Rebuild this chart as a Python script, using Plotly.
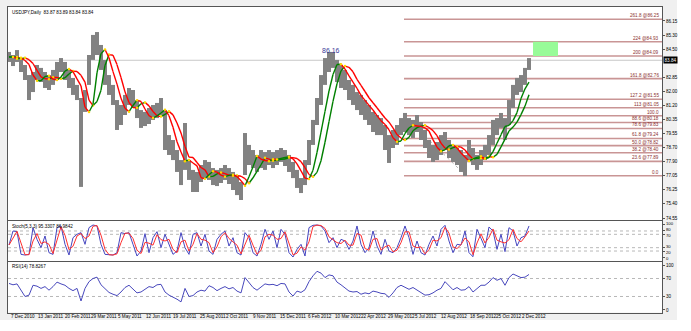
import pandas as pd
import plotly.graph_objects as go

W, H = 691, 331

# ---------------- data (sampled every 4 daily bars) ----------------
high = [84.33, 84.15, 84.44, 83.97, 83.56, 82.97, 83.15, 83.56, 83.39, 83.15,
        82.97, 83.27, 83.74, 83.97, 83.74, 83.27, 82.80, 82.39, 81.62, 82.09,
        84.15, 85.33, 85.50, 84.74, 83.86, 82.97, 82.39, 81.50, 81.21, 81.80,
        82.21, 82.09, 81.50, 80.91, 80.80, 81.03, 81.21, 81.33, 81.62, 80.91,
        79.44, 79.15, 78.56, 77.97, 80.15, 77.97, 77.39, 77.27, 77.68, 77.97,
        77.86, 77.50, 77.39, 77.50, 77.68, 77.50, 77.27, 77.09, 76.68, 79.56,
        78.86, 78.56, 78.27, 78.56, 78.44, 78.56, 78.44, 78.56, 78.68, 78.56,
        78.27, 77.86, 77.39, 76.91, 77.97, 79.15, 80.33, 81.62, 82.97, 83.97,
        84.33, 84.33, 83.86, 83.56, 83.27, 82.68, 82.39, 81.97, 81.80, 81.50,
        81.21, 80.80, 80.62, 80.44, 80.03, 79.44, 79.74, 80.03, 80.44, 80.74,
        80.44, 80.33, 80.62, 80.21, 79.74, 79.15, 78.86, 79.03, 79.44, 79.62,
        79.15, 78.86, 78.68, 78.56, 78.27, 79.15, 78.68, 78.27, 78.56, 78.86,
        79.44, 80.33, 80.44, 80.74, 80.44, 81.50, 82.39, 82.80, 82.97, 83.39,
        83.97]
low = [83.74, 83.50, 83.74, 83.15, 82.68, 81.50, 81.97, 82.68, 82.56, 82.21,
       82.09, 82.39, 82.68, 83.15, 82.68, 82.21, 81.80, 81.50, 76.39, 80.80,
       82.39, 83.86, 84.15, 83.27, 82.39, 81.80, 81.21, 79.74, 80.03, 80.62,
       81.21, 81.03, 80.44, 79.86, 79.97, 80.09, 80.33, 80.44, 80.62, 78.56,
       78.27, 77.97, 77.27, 76.50, 77.39, 76.80, 76.09, 76.09, 76.68, 76.91,
       76.80, 76.50, 76.44, 76.62, 76.80, 76.56, 76.21, 75.91, 75.62, 77.09,
       77.68, 77.50, 77.27, 77.50, 77.39, 77.68, 77.50, 77.68, 77.86, 77.62,
       77.27, 76.91, 76.33, 76.03, 76.50, 77.68, 78.86, 80.03, 81.21, 82.39,
       83.15, 83.39, 82.56, 82.21, 82.09, 81.50, 81.21, 80.91, 80.62, 80.33,
       80.03, 79.62, 79.44, 79.44, 78.56, 77.80, 78.68, 78.86, 79.44, 79.62,
       79.44, 79.27, 79.62, 79.15, 78.68, 78.09, 77.86, 77.97, 78.27, 78.56,
       78.09, 77.86, 77.68, 77.27, 77.03, 77.97, 77.68, 77.39, 77.68, 77.97,
       78.27, 78.86, 79.44, 79.86, 79.15, 80.03, 81.03, 81.80, 81.97, 82.39,
       83.27]
stoch_k = [38, 80, 78, 10, 8, 10, 90, 55, 30, 65, 15, 10, 90, 95, 40, 8, 60, 70, 75, 40,
           90, 98, 95, 40, 10, 8, 8, 15, 75, 72, 75, 40, 5, 20, 72, 15, 60, 78, 30, 70,
           40, 10, 20, 75, 30, 10, 70, 75, 35, 70, 20, 10, 55, 70, 80, 35,
           60, 15, 8, 75, 60, 15, 5, 40, 85, 55, 80, 30, 85, 70, 15, 2, 25, 40, 5, 90,
           97, 98, 95, 80, 45, 60, 30, 55, 50, 25, 50, 95, 40, 15, 30, 80, 35, 10, 55, 20,
           15, 30, 60, 95, 60, 10, 50, 15, 8, 40, 65, 35, 85, 97, 50, 15, 40,
           38, 80, 15, 3, 85, 58, 30, 92, 80, 25, 70, 18, 90, 80, 35, 60, 65, 95]
rsi = [59, 56, 58, 45, 30, 33, 55, 53, 48, 52, 44, 52, 62, 58, 55, 48, 43, 48, 20, 48,
       63, 70, 73, 56, 47, 39, 35, 32, 40, 50, 55, 46, 38, 40, 46, 52, 50, 56, 57, 40,
       33, 29, 24, 18, 48, 30, 32, 40, 44, 42, 54, 50, 43, 48, 52, 47,
       50, 42, 38, 72, 60, 50, 44, 50, 58, 56, 57, 54, 59, 58, 40, 31, 42, 39, 45, 63,
       76, 86, 82, 72, 78, 76, 62, 56, 50, 42, 40, 41, 35, 38, 36, 42, 40, 37, 36, 28,
       38, 50, 55, 50, 46, 50, 44, 37, 33, 34, 38, 44, 48, 63, 54, 45, 50,
       44, 45, 52, 40, 47, 55, 55, 62, 72, 66, 70, 55, 72, 80, 76, 72, 73, 79]

bar_step = 4
bars = [bar_step * i for i in range(len(high))]

date_labels = ["7 Dec 2010", "13 Jan 2011", "20 Feb 2011", "29 Mar 2011", "5 May 2011",
               "12 Jun 2011", "19 Jul 2011", "25 Aug 2011", "2 Oct 2011", "9 Nov 2011",
               "15 Dec 2011", "6 Feb 2012", "10 Mar 2012", "22 Apr 2012", "29 May 2012",
               "5 Jul 2012", "12 Aug 2012", "18 Sep 2012", "25 Oct 2012", "2 Dec 2012"]
date_bars = [0, 27, 54, 80, 107, 135, 162, 189, 215, 242, 269, 297, 324, 350, 377,
             404, 430, 459, 485, 511]

price_ticks = [86.15, 85.30, 84.50, 82.85, 82.00, 81.20, 80.35, 79.55, 78.70, 77.90,
               77.05, 76.25, 75.40, 74.55]
price_tick_text = ["86.15", "85.30", "84.50", "82.85", "82.00", "81.20", "80.35", "79.55",
                   "78.70", "77.90", "77.05", "76.25", "75.40", "74.55"]
stoch_levels = [100, 80, 70, 30, 20, 0]
stoch_level_text = ["100", "80", "70", "30", "20", "0"]
rsi_levels = [100, 70, 30, 0]
rsi_level_text = ["100", "70", "30", "0"]

fib_names = ["261.8 @86.25", "224 @84.93", "200 @84.09", "161.8 @82.76", "127.2 @81.55",
             "113 @81.05", "100.0", "88.6 @80.18", "78.6 @79.83", "61.8 @79.24",
             "50.0 @78.82", "38.2 @78.40", "23.6 @77.89", "0.0"]
fib_prices = [86.25, 84.93, 84.09, 82.76, 81.55, 81.05, 80.58, 80.18, 79.83, 79.24,
              78.82, 78.40, 77.89, 77.05]
fib_start_bar = 395
fib_low_bar = 457
target_zone = (84.09, 84.93)
target_bars = (524, 549)

last_price = 83.84
last_price_text = "83.84"
peak_note = "86.16"
peak_note_bar, peak_note_price = 322, 84.41
title_text = "USDJPY,Daily  83.87 83.89 83.84 83.84"
stoch_text = "Stoch(5,3,3) 95.3307 86.9842"
rsi_text = "RSI(14) 78.8267"

# ---------------- derived ----------------
n = len(high)
typ = (pd.Series(high) + pd.Series(low)) / 2
ma_fast = typ.rolling(3, min_periods=1).mean().shift(1).bfill().tolist()
ma_slow = typ.rolling(4, min_periods=1).mean().shift(2).bfill().tolist()
k_s = pd.Series(stoch_k, dtype=float)
stoch_d = k_s.rolling(2, min_periods=1).mean().tolist()

FONT = "Liberation Sans, Arial, sans-serif"
SMALL = 4.6
fig = go.Figure()

# price bars
px_, py_ = [], []
for b, h, l in zip(bars, high, low):
    px_ += [b, b, None]
    py_ += [l, h, None]
fig.add_trace(go.Scatter(x=px_, y=py_, mode="lines", line=dict(color="#828282", width=4),
                         hoverinfo="skip", showlegend=False, xaxis="x", yaxis="y"))


def colored(ma):
    gx, gy, rx, ry, tx, ty = [], [], [], [], [], []
    prev = None
    for i in range(1, n):
        up = ma[i] >= ma[i - 1]
        if up:
            gx += [bars[i - 1], bars[i], None]
            gy += [ma[i - 1], ma[i], None]
        else:
            rx += [bars[i - 1], bars[i], None]
            ry += [ma[i - 1], ma[i], None]
        if prev is not None and up != prev:
            tx.append(bars[i - 1])
            ty.append(ma[i - 1])
        prev = up
    return gx, gy, rx, ry, tx, ty


for ma in (ma_slow, ma_fast):
    gx, gy, rx, ry, tx, ty = colored(ma)
    fig.add_trace(go.Scatter(x=gx, y=gy, mode="lines", line=dict(color="#008000", width=1.4),
                             hoverinfo="skip", showlegend=False, xaxis="x", yaxis="y"))
    fig.add_trace(go.Scatter(x=rx, y=ry, mode="lines", line=dict(color="#ff0000", width=1.4),
                             hoverinfo="skip", showlegend=False, xaxis="x", yaxis="y"))
    fig.add_trace(go.Scatter(x=tx, y=ty, mode="markers", marker=dict(color="#ffd700", size=2.5),
                             hoverinfo="skip", showlegend=False, xaxis="x", yaxis="y"))

# stochastic
fig.add_trace(go.Scatter(x=bars, y=stoch_k, mode="lines", line=dict(color="#4646c0", width=1),
                         showlegend=False, xaxis="x2", yaxis="y2"))
fig.add_trace(go.Scatter(x=bars, y=stoch_d, mode="lines", line=dict(color="#ff3030", width=1),
                         showlegend=False, xaxis="x2", yaxis="y2"))
# RSI
fig.add_trace(go.Scatter(x=bars, y=rsi, mode="lines", line=dict(color="#4848bc", width=1),
                         showlegend=False, xaxis="x3", yaxis="y3"))

shapes = []
ann = []
# white outside strips
shapes.append(dict(type="rect", xref="paper", yref="paper", x0=677 / W, x1=1, y0=0, y1=1,
                   fillcolor="white", line=dict(width=0), layer="below"))
shapes.append(dict(type="rect", xref="paper", yref="paper", x0=0, x1=1, y0=0, y1=1 - 320 / H,
                   fillcolor="white", line=dict(width=0), layer="below"))
# bid line
shapes.append(dict(type="line", xref="x domain", yref="y", x0=0, x1=1, y0=last_price, y1=last_price,
                   line=dict(color="#c8c8c8", width=1), layer="below"))
# fib levels
for name, p in zip(fib_names, fib_prices):
    shapes.append(dict(type="line", xref="x", yref="y", x0=fib_start_bar, x1=653, y0=p, y1=p,
                       line=dict(color="#c99595", width=1.6), layer="below"))
    ann.append(dict(x=652, y=p, xref="x", yref="y", text=name, showarrow=False, xanchor="right",
                    yanchor="bottom", yshift=-1, font=dict(family=FONT, size=SMALL, color="#8b3030")))
shapes.append(dict(type="line", xref="x", yref="y", x0=fib_start_bar, x1=fib_low_bar,
                   y0=fib_prices[6], y1=fib_prices[-1],
                   line=dict(color="#b5b5b5", width=1, dash="dot"), layer="below"))
shapes.append(dict(type="rect", xref="x", yref="y", x0=target_bars[0], x1=target_bars[1],
                   y0=target_zone[0], y1=target_zone[1], fillcolor="#98fb98",
                   line=dict(width=0), layer="below"))
# oscillator levels
for lv in (80, 70, 30, 20):
    shapes.append(dict(type="line", xref="x2 domain", yref="y2", x0=0, x1=1, y0=lv, y1=lv,
                       line=dict(color="#b8b8b8", width=1, dash="dot"), layer="below"))
for lv in (70, 30):
    shapes.append(dict(type="line", xref="x3 domain", yref="y3", x0=0, x1=1, y0=lv, y1=lv,
                       line=dict(color="#b8b8b8", width=1, dash="dot"), layer="below"))

# oscillator scale labels (nudged apart where levels are close together)
stoch_shift = {"100": 1, "80": 1.5, "70": -1.5, "30": 1.5, "20": -1.5, "0": -1}
for v, t in zip(stoch_levels, stoch_level_text):
    ann.append(dict(x=664 / W, y=v, xref="paper", yref="y2", text=t, showarrow=False,
                    xanchor="left", yanchor="middle", yshift=stoch_shift[t],
                    font=dict(family=FONT, size=4.2, color="#000000")))

# texts
for txt, ypx in ((title_text, 12), (stoch_text, 226), (rsi_text, 266.5)):
    ann.append(dict(x=10 / W, y=1 - ypx / H, xref="paper", yref="paper", text=txt,
                    showarrow=False, xanchor="left", yanchor="middle",
                    font=dict(family=FONT, size=SMALL, color="#000000")))
ann.append(dict(x=peak_note_bar, y=peak_note_price, xref="x", yref="y", text=peak_note,
                showarrow=False, font=dict(family=FONT, size=7, color="#3a3a9a")))
ann.append(dict(x=662.5 / W, y=last_price, xref="paper", yref="y", text=last_price_text,
                showarrow=False, xanchor="left", yanchor="middle", bgcolor="#000000",
                borderpad=0.5, font=dict(family=FONT, size=SMALL, color="#ffffff")))
for b, t in zip(date_bars, date_labels):
    ann.append(dict(x=b, y=1 - 316.5 / H, xref="x", yref="paper", text=t, showarrow=False,
                    xanchor="left", yanchor="middle",
                    font=dict(family=FONT, size=SMALL, color="#000000")))

xdom = [8 / W, 662 / W]
xcommon = dict(domain=xdom, range=[-1, 653], showline=True, mirror=True, linecolor="#555555",
               linewidth=1, showticklabels=False, showgrid=False, zeroline=False, ticks="")
ycommon = dict(side="right", showline=True, mirror=True, linecolor="#555555", linewidth=1,
               showgrid=False, zeroline=False, ticks="outside", ticklen=2, tickcolor="#555555",
               tickfont=dict(family=FONT, size=SMALL, color="#000000"))

fig.update_layout(
    width=W, height=H, margin=dict(l=0, r=0, t=0, b=0),
    paper_bgcolor="#f0f0f0", plot_bgcolor="#ffffff", showlegend=False,
    xaxis=dict(anchor="y", **xcommon),
    xaxis2=dict(anchor="y2", matches="x", **xcommon),
    xaxis3=dict(anchor="y3", matches="x", **xcommon),
    yaxis=dict(anchor="x", domain=[1 - 220 / H, 1 - 7 / H], range=[74.444, 86.973],
               tickvals=price_ticks, ticktext=price_tick_text, **ycommon),
    yaxis2=dict(anchor="x2", domain=[1 - 261 / H, 1 - 221 / H], range=[-9.9, 109.9],
                tickvals=stoch_levels, showticklabels=False, **ycommon),
    yaxis3=dict(anchor="x3", domain=[1 - 312.5 / H, 1 - 262 / H], range=[-5.6, 106.7],
                tickvals=rsi_levels, ticktext=rsi_level_text, **ycommon),
    shapes=shapes, annotations=ann,
)

fig.write_html("out.html")
